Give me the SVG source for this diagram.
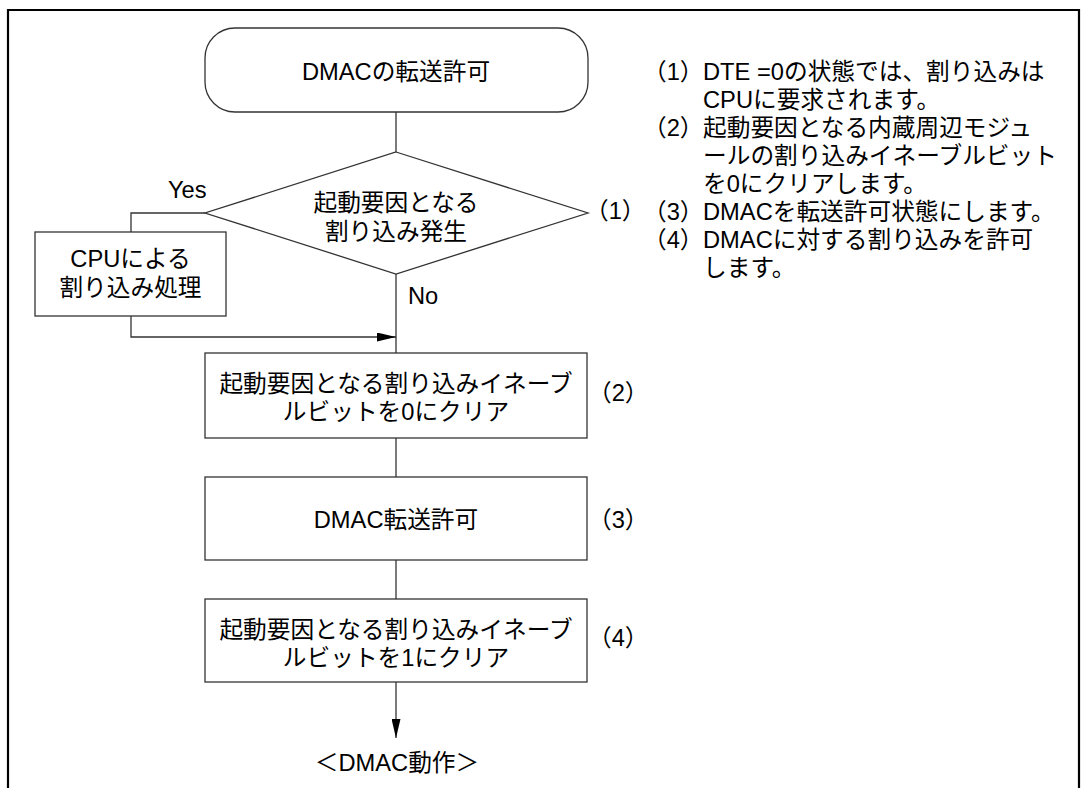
<svg xmlns="http://www.w3.org/2000/svg" width="1081" height="788" viewBox="0 0 1081 788">
<defs>
<style>
text{font-family:"Liberation Sans","Noto Sans CJK JP",sans-serif;font-size:23.7px;fill:#000}
.m{text-anchor:middle}
.shape{fill:#fff;stroke:#333;stroke-width:1.3}
.ln{fill:none;stroke:#333;stroke-width:1.3}
</style>
<marker id="ah" markerUnits="userSpaceOnUse" markerWidth="19" markerHeight="9" refX="19" refY="4.5" orient="auto">
<path d="M0,0 L19,4.5 L0,9 z" fill="#000"/>
</marker>
</defs>
<rect width="1081" height="788" fill="#fff"/>
<path d="M8,790 V10 H1079 V790" fill="none" stroke="#000" stroke-width="2.2"/>
<g id="connectors">
<path class="ln" d="M396,112 V152"/>
<path class="ln" d="M396,274 V353"/>
<path class="ln" d="M205,213 H131 V232"/>
<path class="ln" d="M131,316 V337 H396" marker-end="url(#ah)"/>
<path class="ln" d="M396,438 V477"/>
<path class="ln" d="M396,560 V599"/>
<path class="ln" d="M396,682 V738" marker-end="url(#ah)"/>
<text x="168" y="198">Yes</text>
<text x="408" y="304">No</text>
</g>
<g id="start">
<rect class="shape" x="205" y="28" width="383" height="84" rx="30" ry="30"/>
<text class="m" x="396" y="80">DMACの転送許可</text>
</g>
<g id="decision">
<polygon class="shape" points="396,152 588,213 396,274 205,213"/>
<text class="m" x="396" y="211">起動要因となる</text>
<text class="m" x="396" y="240">割り込み発生</text>
<text x="585" y="219">（1）</text>
</g>
<g id="cpu">
<rect class="shape" x="35" y="232" width="191" height="84"/>
<text class="m" x="130.5" y="267">CPUによる</text>
<text class="m" x="130.5" y="296">割り込み処理</text>
</g>
<g id="step2">
<rect class="shape" x="205" y="353" width="382" height="85"/>
<text class="m" x="396" y="392">起動要因となる割り込みイネーブ</text>
<text class="m" x="396" y="420">ルビットを0にクリア</text>
<text x="588" y="401">（2）</text>
</g>
<g id="step3">
<rect class="shape" x="205" y="477" width="382" height="83"/>
<text class="m" x="396" y="528">DMAC転送許可</text>
<text x="588" y="528">（3）</text>
</g>
<g id="step4">
<rect class="shape" x="205" y="599" width="382" height="83"/>
<text class="m" x="396" y="638">起動要因となる割り込みイネーブ</text>
<text class="m" x="396" y="666">ルビットを1にクリア</text>
<text x="588" y="646">（4）</text>
</g>
<g id="end">
<text class="m" x="397" y="771">＜DMAC動作＞</text>
</g>
<g id="notes">
<text y="80"><tspan x="643">（1）</tspan><tspan x="703">DTE =0の状態では、割り込みは</tspan></text>
<text x="703" y="108">CPUに要求されます。</text>
<text y="136"><tspan x="643">（2）</tspan><tspan x="703">起動要因となる内蔵周辺モジュ</tspan></text>
<text x="703" y="164">ールの割り込みイネーブルビット</text>
<text x="703" y="192">を0にクリアします。</text>
<text y="220"><tspan x="643">（3）</tspan><tspan x="703">DMACを転送許可状態にします。</tspan></text>
<text y="248"><tspan x="643">（4）</tspan><tspan x="703">DMACに対する割り込みを許可</tspan></text>
<text x="703" y="276">します。</text>
</g>
</svg>
